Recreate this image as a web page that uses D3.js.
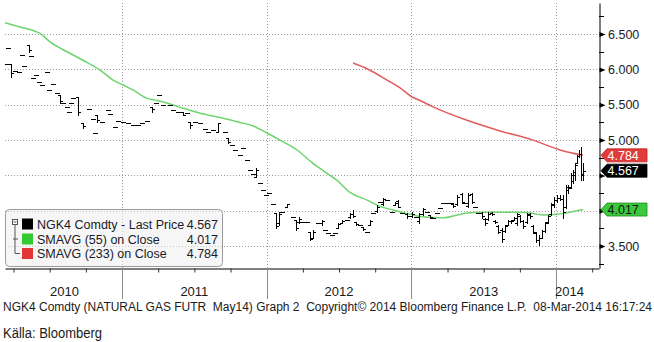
<!DOCTYPE html>
<html><head><meta charset="utf-8">
<script src="https://cdn.jsdelivr.net/npm/d3@7"></script>
<style>html,body{margin:0;padding:0;background:#fff;} svg{display:block;font-family:"Liberation Sans",Arial,sans-serif;}</style>
</head><body>
<svg id="c" width="654" height="342"></svg>
<script>
// ---------- DATA ----------
const barTime=[2010.205,2010.212,2010.233,2010.260,2010.288,2010.309,2010.323,2010.357,2010.371,2010.385,
2010.406,2010.426,2010.447,2010.482,2010.495,2010.523,2010.551,2010.571,2010.592,2010.620,
2010.634,2010.647,2010.661,2010.696,2010.730,2010.772,2010.800,2010.813,2010.827,2010.862,
2010.903,2010.917,2010.952,2010.972,2011.007,2011.041,2011.076,2011.111,2011.138,2011.173,
2011.207,2011.235,2011.256,2011.283,2011.332,2011.353,2011.387,2011.422,2011.449,2011.470,
2011.505,2011.539,2011.574,2011.594,2011.629,2011.664,2011.712,2011.733,2011.760,2011.781,
2011.816,2011.836,2011.864,2011.885,2011.906,2011.926,2011.954,2011.975,2011.995,2012.016,
2012.044,2012.065,2012.085,2012.106,2012.141,2012.182,2012.203,2012.224,2012.244,2012.279,
2012.300,2012.320,2012.355,2012.382,2012.403,2012.424,2012.452,2012.472,2012.493,2012.521,
2012.555,2012.576,2012.597,2012.617,2012.645,2012.666,2012.694,2012.714,2012.735,2012.763,
2012.783,2012.804,2012.832,2012.866,2012.887,2012.908,2012.935,2012.970,2013.005,2013.032,
2013.053,2013.081,2013.108,2013.129,2013.150,2013.177,2013.198,2013.219,2013.247,2013.267,
2013.288,2013.316,2013.350,2013.371,2013.392,2013.419,2013.440,2013.461,2013.488,2013.509,
2013.530,2013.558,2013.578,2013.599,2013.627,2013.647,2013.668,2013.689,2013.710,2013.730,
2013.751,2013.772,2013.799,2013.820,2013.841,2013.862,2013.883,2013.903,2013.924,2013.945,
2013.965,2013.986,2014.007,2014.028,2014.048,2014.069,2014.083,2014.104,2014.117,2014.131,
2014.145,2014.159,2014.173,2014.187];
const barOpen=[6.07,6.31,6.08,5.98,5.96,6.20,6.05,6.35,6.19,5.88,
5.92,5.82,5.78,5.96,5.71,5.80,5.66,5.64,5.52,5.47,
5.40,5.52,5.59,5.61,5.24,5.44,5.30,5.10,5.36,5.25,
5.42,5.37,5.18,5.27,5.25,5.24,5.22,5.21,5.24,5.27,
5.47,5.52,5.64,5.50,5.50,5.42,5.40,5.40,5.38,5.25,
5.25,5.24,5.16,5.11,5.14,5.11,5.11,5.03,4.93,4.86,
4.79,4.89,4.72,4.58,4.52,4.48,4.39,4.29,4.22,4.25,
4.09,3.97,3.82,3.98,4.06,3.91,3.87,3.84,3.84,3.84,
3.70,3.62,3.82,3.82,3.73,3.68,3.66,3.68,3.76,3.83,
3.87,3.91,3.95,3.84,3.80,3.77,3.70,3.80,3.97,3.99,
4.12,4.10,4.15,3.98,4.08,4.14,3.97,3.96,3.92,3.91,
3.85,3.96,3.98,3.94,3.90,3.97,4.04,4.11,4.11,4.11,
4.10,4.09,4.24,4.11,4.07,4.24,4.05,3.97,3.97,3.89,
3.88,3.97,3.86,3.79,3.73,3.71,3.80,3.85,3.87,3.82,
3.92,3.86,3.84,3.94,3.79,3.69,3.58,3.62,3.71,3.84,
3.95,4.08,4.15,4.18,4.17,4.05,4.30,4.33,4.42,4.50,
4.68,4.78,4.80,4.52];
const barHigh=[6.07,6.31,6.08,5.98,5.96,6.20,6.05,6.35,6.19,5.88,
5.92,5.82,5.78,5.96,5.71,5.80,5.66,5.64,5.52,5.47,
5.40,5.52,5.59,5.61,5.24,5.44,5.30,5.10,5.36,5.25,
5.42,5.37,5.18,5.27,5.25,5.24,5.22,5.21,5.24,5.27,
5.47,5.52,5.64,5.50,5.50,5.42,5.40,5.40,5.38,5.25,
5.25,5.24,5.16,5.11,5.14,5.24,5.11,5.03,4.93,4.86,
4.79,4.89,4.72,4.58,4.52,4.60,4.39,4.29,4.22,4.25,
4.09,3.97,3.98,3.98,4.10,3.91,3.87,3.91,3.84,3.84,
3.70,3.73,3.82,3.87,3.73,3.68,3.66,3.68,3.82,3.87,
3.87,3.97,4.01,3.84,3.80,3.77,3.70,3.87,3.97,4.08,
4.12,4.18,4.15,3.98,4.12,4.15,3.97,3.97,3.98,3.91,
3.97,4.04,3.98,3.94,3.90,3.97,4.04,4.11,4.11,4.11,
4.11,4.22,4.25,4.11,4.25,4.25,4.05,3.97,3.98,3.90,
3.98,3.98,3.87,3.80,3.75,3.80,3.87,3.87,3.91,3.97,
3.94,3.87,3.97,3.97,3.80,3.70,3.66,3.73,3.84,3.94,
4.11,4.19,4.22,4.22,4.22,4.36,4.36,4.53,4.57,4.67,
4.79,4.86,4.90,4.67];
const barLow=[6.07,6.31,5.89,5.98,5.96,6.20,6.05,6.25,6.19,5.88,
5.92,5.82,5.78,5.96,5.71,5.80,5.66,5.52,5.52,5.47,
5.40,5.52,5.59,5.36,5.17,5.44,5.30,5.10,5.26,5.25,
5.42,5.37,5.18,5.27,5.25,5.24,5.22,5.21,5.24,5.27,
5.40,5.52,5.64,5.50,5.50,5.42,5.40,5.35,5.38,5.17,
5.25,5.24,5.16,5.11,5.14,5.11,5.11,4.96,4.93,4.86,
4.79,4.89,4.72,4.58,4.52,4.48,4.39,4.29,4.22,4.25,
4.09,3.75,3.80,3.98,4.06,3.91,3.73,3.83,3.84,3.84,
3.58,3.61,3.82,3.80,3.73,3.68,3.66,3.68,3.75,3.82,
3.87,3.90,3.91,3.80,3.80,3.73,3.70,3.80,3.97,3.98,
4.12,4.08,4.15,3.98,4.08,4.05,3.97,3.90,3.91,3.91,
3.83,3.94,3.98,3.90,3.90,3.97,4.04,4.11,4.11,4.11,
4.05,4.08,4.11,4.11,4.05,4.11,4.05,3.97,3.90,3.80,
3.87,3.94,3.83,3.68,3.56,3.70,3.80,3.83,3.87,3.80,
3.84,3.75,3.83,3.90,3.68,3.56,3.51,3.61,3.70,3.83,
3.94,4.05,4.12,4.15,3.90,4.04,4.25,4.32,4.39,4.43,
4.67,4.76,4.43,4.43];
const barClose=[6.07,6.31,5.95,5.98,5.96,6.20,6.05,6.27,6.19,5.88,
5.92,5.82,5.78,5.96,5.71,5.80,5.66,5.55,5.52,5.47,
5.40,5.52,5.59,5.40,5.20,5.44,5.30,5.10,5.28,5.25,
5.42,5.37,5.18,5.27,5.25,5.24,5.22,5.21,5.24,5.27,
5.44,5.52,5.64,5.50,5.50,5.42,5.40,5.36,5.38,5.22,
5.25,5.24,5.16,5.11,5.14,5.24,5.11,4.98,4.93,4.86,
4.79,4.89,4.72,4.58,4.52,4.58,4.39,4.29,4.22,4.25,
4.09,3.78,3.96,3.98,4.10,3.91,3.76,3.89,3.84,3.84,
3.60,3.70,3.82,3.86,3.73,3.68,3.66,3.68,3.81,3.86,
3.87,3.96,3.92,3.81,3.80,3.74,3.70,3.86,3.97,4.06,
4.12,4.16,4.15,3.98,4.11,4.06,3.97,3.92,3.96,3.91,
3.95,4.02,3.98,3.91,3.90,3.97,4.04,4.11,4.11,4.11,
4.07,4.20,4.13,4.11,4.23,4.12,4.05,3.97,3.92,3.82,
3.96,3.95,3.84,3.70,3.60,3.78,3.85,3.86,3.90,3.95,
3.86,3.78,3.95,3.92,3.70,3.58,3.62,3.71,3.82,3.92,
4.09,4.15,4.18,4.17,3.98,4.33,4.32,4.50,4.55,4.65,
4.77,4.80,4.50,4.567];

const ma55Time=[2010.191,2010.295,2010.399,2010.433,2010.502,2010.620,2010.730,2010.848,2010.938,2011.007,
2011.076,2011.173,2011.242,2011.332,2011.422,2011.539,2011.677,2011.816,2011.906,2012.002,
2012.092,2012.210,2012.320,2012.417,2012.459,2012.486,2012.576,2012.694,2012.763,2012.873,
2012.991,2013.060,2013.219,2013.385,2013.495,2013.730,2013.820,2013.910,2014.007,2014.076,2014.187];
const ma55Value=[6.66,6.60,6.54,6.51,6.39,6.25,6.13,5.99,5.85,5.78,
5.71,5.59,5.56,5.51,5.45,5.38,5.32,5.25,5.20,5.10,
5.00,4.86,4.67,4.53,4.47,4.43,4.26,4.15,4.08,4.01,
3.95,3.92,3.90,3.97,3.98,3.98,3.97,3.94,3.95,3.97,4.017];

const ma233Time=[2012.597,2012.694,2012.832,2012.922,2013.005,2013.060,2013.150,2013.385,2013.613,2013.841,2014.028,2014.187];
const ma233Value=[6.09,6.01,5.85,5.74,5.61,5.56,5.47,5.28,5.13,5.00,4.86,4.784];

const yTicks=[6.5,6.0,5.5,5.0,4.5,4.0,3.5];
const yHiddenLabel=[4.5]; // covered by the last-price box in the reference
const yMinorTicks=[6.75,6.25,5.75,5.25,4.75,4.25,3.75,3.25];
const yearBounds=[2011,2012,2013,2014];
const yearLabels=["2010","2011","2012","2013","2014"];
const quarterTicks=[2010.25,2010.5,2010.75,2011.25,2011.5,2011.75,2012.25,2012.5,2012.75,2013.25,2013.5,2013.75,2014.25];
const legendLabels=["NGK4 Comdty - Last Price","SMAVG (55) on Close","SMAVG (233) on Close"];
const legendValues=["4.567","4.017","4.784"];
const lastLabels=[{v:4.784,t:"4.784",k:"red"},{v:4.567,t:"4.567",k:"black"},{v:4.017,t:"4.017",k:"green"}];
const footerText="NGK4 Comdty (NATURAL GAS FUTR  May14) Graph 2  Copyright\u00A9 2014 Bloomberg Finance L.P.  08-Mar-2014 16:17:24";
const sourceText="Källa: Bloomberg";

// ---------- STYLE ----------
const COL={black:"#000000",green:"#6fd46f",red:"#e25c5c"};
const BOX={red:{fill:"#e23b3b",text:"#ffffff",stroke:"#c02020"},black:{fill:"#000000",text:"#ffffff",stroke:"#000"},green:{fill:"#3cc83c",text:"#111111",stroke:"#1f8a1f"}};
const X0=5,X1=599,Y0=3,Y1=268;
const svg=d3.select("#c");
const x=d3.scaleLinear().domain([2010.191,2014.297]).range([X0,X1]);
const y=d3.scaleLinear().domain([3.19,6.94]).range([Y1,Y0]);
const px=v=>Math.round(v)+0.5;

// grid
svg.append("g").selectAll("line").data(yTicks).join("line")
  .attr("x1",X0).attr("x2",X1).attr("y1",d=>px(y(d))).attr("y2",d=>px(y(d)))
  .attr("stroke","#9c9c9c").attr("stroke-dasharray","1,2");
svg.append("g").selectAll("line").data(yearBounds).join("line")
  .attr("x1",d=>px(x(d))).attr("x2",d=>px(x(d))).attr("y1",Y0).attr("y2",Y1)
  .attr("stroke","#9c9c9c").attr("stroke-dasharray","1,2");

// moving averages
const lineGen=(T,V)=>d3.line().curve(d3.curveMonotoneX).x(i=>x(T[i])).y(i=>y(V[i]))(d3.range(T.length));
svg.append("path").attr("d",lineGen(ma55Time,ma55Value)).attr("fill","none").attr("stroke",COL.green).attr("stroke-width",1.5);
svg.append("path").attr("d",lineGen(ma233Time,ma233Value)).attr("fill","none").attr("stroke",COL.red).attr("stroke-width",1.5);

// price bars (OHLC)
const gb=svg.append("g").attr("stroke",COL.black).attr("stroke-width",1).attr("shape-rendering","crispEdges");
barTime.forEach((t,i)=>{
  const xi=px(x(t));
  const yh=Math.round(y(barHigh[i])), yl=Math.round(y(barLow[i]));
  if(yl>yh) gb.append("line").attr("x1",xi).attr("x2",xi).attr("y1",yh).attr("y2",yl+1);
  const yo=px(y(barOpen[i])), yc=px(y(barClose[i]));
  gb.append("line").attr("x1",xi-2.5).attr("x2",xi).attr("y1",yo).attr("y2",yo);
  gb.append("line").attr("x1",xi).attr("x2",xi+2.5).attr("y1",yc).attr("y2",yc);
});

// x axis
const xAxis=d3.axisBottom(x).tickValues(quarterTicks).tickSize(4).tickSizeOuter(0).tickFormat("");
const gx=svg.append("g").attr("transform",`translate(0,${Y1+0.5})`).call(xAxis);
gx.select(".domain").attr("stroke","#000");
gx.selectAll(".tick line").attr("stroke","#333");
svg.append("g").selectAll("line").data(yearBounds).join("line")
  .attr("x1",d=>px(x(d))).attr("x2",d=>px(x(d))).attr("y1",Y1).attr("y2",299)
  .attr("stroke","#8a8a8a");
const firstT=barTime[0], lastT=barTime[barTime.length-1];
svg.append("g").selectAll("text").data(yearLabels).join("text")
  .attr("x",d=>{const a=Math.max(+d,firstT), b=Math.min(+d+1,lastT); return (x(a)+x(b))/2;})
  .attr("y",296).attr("text-anchor","middle").attr("font-size",13).attr("fill","#1a1a1a").text(d=>d);

// right y axis
const fmt=d3.format(".3f");
const yAxis=d3.axisRight(y).tickValues(yTicks).tickFormat(d=>yHiddenLabel.includes(d)?"":fmt(d)).tickSize(0).tickSizeOuter(0).tickPadding(8.5);
const gy=svg.append("g").attr("transform",`translate(${X1+0.5},0)`).call(yAxis);
gy.select(".domain").attr("stroke","#000");
gy.selectAll(".tick text").attr("font-size",12.5).attr("fill","#1a1a2a").attr("font-family","Liberation Sans, Arial, sans-serif");
gy.selectAll(".tick").append("path").attr("d","M0,-2.5L6,0L0,2.5Z").attr("fill","#000");
svg.append("g").selectAll("line").data(yMinorTicks).join("line")
  .attr("x1",X1).attr("x2",X1+5).attr("y1",d=>px(y(d))).attr("y2",d=>px(y(d))).attr("stroke","#000");

// last value boxes
const gl=svg.append("g");
lastLabels.forEach(d=>{
  const cy=y(d.v), b=BOX[d.k];
  gl.append("path").attr("d",`M${X1+2},${cy}L${X1+8},${cy-6.5}H647V${cy+6.5}H${X1+8}Z`)
    .attr("fill",b.fill).attr("stroke",b.stroke).attr("stroke-width",0.8);
  gl.append("text").attr("x",X1+8.5).attr("y",cy).attr("dy","0.36em").attr("font-size",12.5)
    .attr("fill",b.text).text(d.t);
});

// legend
const lg=svg.append("g");
lg.append("rect").attr("x",5.5).attr("y",209.5).attr("width",217).attr("height",57).attr("rx",4)
  .attr("fill","#eeeeee").attr("fill-opacity",0.55).attr("stroke","#9a9a9a");
const rowsY=[224,239,253.5];
const swatch=[COL.black,"#33c933","#e23535"];
rowsY.forEach((ry,i)=>{
  lg.append("rect").attr("x",22).attr("y",ry-5.5).attr("width",11).attr("height",11).attr("fill",swatch[i]);
  lg.append("text").attr("x",37).attr("y",ry).attr("dy","0.36em").attr("font-size",12.5).attr("fill","#1a1a2a").text(legendLabels[i]);
  lg.append("text").attr("x",218).attr("y",ry).attr("dy","0.36em").attr("font-size",12.5).attr("text-anchor","end").attr("fill","#1a1a2a").text(legendValues[i]);
});
// tree icon
lg.append("rect").attr("x",12.5).attr("y",219.5).attr("width",5).attr("height",5).attr("fill","#fff").attr("stroke","#555");
lg.append("line").attr("x1",13.5).attr("x2",16.5).attr("y1",222).attr("y2",222).attr("stroke","#555");
lg.append("path").attr("d",`M15,224.5V${rowsY[2]}H20M13,${rowsY[1]}H18`).attr("fill","none").attr("stroke","#555");

// footer
svg.append("text").attr("x",3).attr("y",311).attr("font-size",12).attr("fill","#1a1a1a")
  .attr("textLength",649).attr("lengthAdjust","spacingAndGlyphs").style("white-space","pre").text(footerText);
svg.append("text").attr("x",3).attr("y",338).attr("font-size",14).attr("fill","#1a1a1a")
  .attr("textLength",99).attr("lengthAdjust","spacingAndGlyphs").text(sourceText);
</script>
</body></html>
